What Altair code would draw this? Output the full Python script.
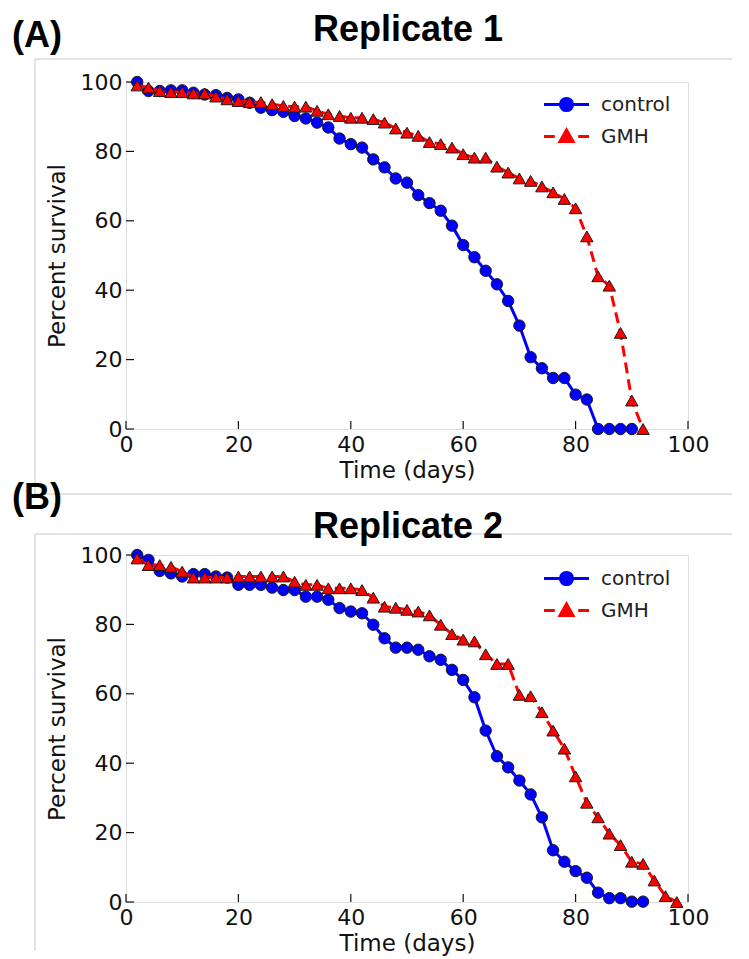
import altair as alt
import pandas as pd

# ---------------- data ----------------
days_c1 = [2, 4, 6, 8, 10, 12, 14, 16, 18, 20, 22, 24, 26, 28, 30, 32, 34, 36, 38, 40,
           42, 44, 46, 48, 50, 52, 54, 56, 58, 60, 62, 64, 66, 68, 70, 72, 74, 76, 78, 80,
           82, 84, 86, 88, 90]
ctrl_1 = [100, 97.4, 97.4, 97.6, 97.6, 96.9, 96.4, 96.2, 95.4, 95.0, 94.0, 92.6, 91.9, 91.4,
          90.2, 89.5, 88.3, 86.9, 83.7, 82.1, 81.1, 77.7, 75.4, 72.2, 71.0, 67.4, 65.1, 62.9,
          58.6, 53.0, 49.5, 45.6, 41.7, 36.9, 29.8, 20.7, 17.5, 14.7, 14.7, 9.9, 8.5, 0, 0, 0, 0]

days_g1 = [2, 4, 6, 8, 10, 12, 14, 16, 18, 20, 22, 24, 26, 28, 30, 32, 34, 36, 38, 40,
           42, 44, 46, 48, 50, 52, 54, 56, 58, 60, 62, 64, 66, 68, 70, 72, 74, 76, 78, 80,
           82, 84, 86, 88, 90, 92]
gmh_1 = [99.0, 98.4, 97.4, 97.1, 97.1, 96.7, 96.7, 95.8, 95.0, 94.5, 94.2, 94.2, 93.6, 93.1,
         92.9, 92.9, 91.7, 90.7, 90.2, 89.7, 89.7, 89.3, 88.3, 86.6, 85.4, 84.5, 82.7, 82.1,
         81.1, 79.2, 78.2, 78.2, 75.6, 73.9, 72.2, 71.5, 69.9, 68.2, 66.3, 63.6, 55.5, 44.0,
         41.3, 27.7, 8.2, 0]

days_c2 = [2, 4, 6, 8, 10, 12, 14, 16, 18, 20, 22, 24, 26, 28, 30, 32, 34, 36, 38, 40,
           42, 44, 46, 48, 50, 52, 54, 56, 58, 60, 62, 64, 66, 68, 70, 72, 74, 76, 78, 80,
           82, 84, 86, 88, 90, 92]
ctrl_2 = [100, 98.6, 95.4, 94.7, 93.8, 94.5, 94.5, 93.8, 93.5, 91.4, 91.4, 91.4, 90.6, 89.9,
          89.9, 88.0, 88.0, 87.1, 84.7, 83.7, 83.2, 79.9, 76.0, 73.3, 73.3, 72.7, 70.8, 69.8,
          66.9, 64.0, 59.0, 49.4, 42.0, 38.8, 35.0, 31.0, 24.4, 14.9, 11.6, 8.9, 7.0, 2.7,
          1.1, 1.1, 0.1, 0.1]

days_g2 = [2, 4, 6, 8, 10, 12, 14, 16, 18, 20, 22, 24, 26, 28, 30, 32, 34, 36, 38, 40,
           42, 44, 46, 48, 50, 52, 54, 56, 58, 60, 62, 64, 66, 68, 70, 72, 74, 76, 78, 80,
           82, 84, 86, 88, 90, 92, 94, 96, 98]
gmh_2 = [99.0, 97.1, 97.1, 96.6, 95.2, 93.5, 93.5, 93.5, 93.5, 93.8, 93.8, 93.8, 93.8, 93.8,
         92.3, 91.4, 91.4, 90.4, 90.4, 90.4, 89.9, 87.7, 85.1, 84.8, 84.2, 83.7, 82.6, 79.9,
         77.2, 75.6, 75.1, 71.4, 68.6, 68.6, 59.7, 59.3, 54.7, 49.4, 44.2, 36.2, 28.6, 24.4,
         19.7, 16.4, 11.6, 11.0, 6.2, 1.7, 0]

series_names = ["control", "GMH"]
tick_values = [0, 20, 40, 60, 80, 100]

# ---------------- style ----------------
W, H = 562, 347
BLUE, RED = "#0000ff", "#ff0000"
EDGE = "#1a1a1a"
GRAY = "#c8c8c8"
TICK_FONT = "DejaVu Sans"
HEAD_FONT = "Liberation Sans Narrow, Liberation Sans, Arial, sans-serif"
LEG_CIRCLE = "M-2.5,0L2.5,0M-0.68,0A0.68,0.68,0,1,0,0.68,0A0.68,0.68,0,1,0,-0.68,0Z"
LEG_TRI = "M-2.5,0L-1.3,0M1.3,0L2.5,0M0,-0.72L0.72,0.55L-0.72,0.55Z"

X_AXIS = alt.Axis(title="Time (days)", values=tick_values, ticks=False, domain=False,
                  grid=False, labelFlush=False, labelFont=TICK_FONT, labelFontSize=22,
                  labelColor="#111", labelPadding=5, titleFont=TICK_FONT, titleFontSize=23,
                  titleFontWeight="normal", titleColor="#111", titlePadding=4)
Y_AXIS = alt.Axis(title="Percent survival", values=tick_values, ticks=False, domain=False,
                  grid=False, labelFlush=False, labelFont=TICK_FONT, labelFontSize=22,
                  labelColor="#111", labelPadding=4, titleFont=TICK_FONT, titleFontSize=23,
                  titleFontWeight="normal", titleColor="#111", titlePadding=11)
XS = alt.Scale(domain=[0, 100], nice=False, zero=False)
YS = alt.Scale(domain=[0, 100], nice=False, zero=False)


def X(field):
    return alt.X(field, scale=XS, axis=X_AXIS)


def Y(field):
    return alt.Y(field, scale=YS, axis=Y_AXIS)


def panel(cd, cv, gd, gv, letter, title, letter_y, title_y, box_top, box_bottom,
          has_bottom_line, legend_y):
    df = pd.DataFrame({
        "day": cd + gd,
        "pct": cv + gv,
        "series": ["control"] * len(cd) + ["GMH"] * len(gd),
    })
    ticks = pd.DataFrame({"t": tick_values})

    base = alt.Chart(df)
    ctrl = base.transform_filter(alt.datum.series == "control")
    gmh = base.transform_filter(alt.datum.series == "GMH")

    ctrl_line = ctrl.mark_line(color=BLUE, strokeWidth=3).encode(x=X("day:Q"), y=Y("pct:Q"))
    ctrl_pts = ctrl.mark_point(shape="circle", filled=True, fill=BLUE, stroke=EDGE,
                               strokeWidth=1, size=130, opacity=1).encode(
        x=X("day:Q"), y=Y("pct:Q"))
    gmh_line = gmh.mark_line(color=RED, strokeWidth=3, strokeDash=[11, 6]).encode(
        x=X("day:Q"), y=Y("pct:Q"))
    gmh_pts = gmh.mark_point(shape="triangle-up", filled=True, fill=RED, stroke=EDGE,
                             strokeWidth=1, size=155, opacity=1).encode(
        x=X("day:Q"), y=Y("pct:Q"))

    leg = alt.Legend(orient="none", legendX=430, legendY=legend_y, title=None, padding=0,
                     labelFont=TICK_FONT, labelFontSize=20, labelColor="#222",
                     labelOffset=24, rowPadding=7, symbolSize=324, symbolStrokeWidth=3,
                     symbolOpacity=1)
    legend_layer = base.transform_filter(alt.datum.day < -1000).mark_point(
        filled=True, strokeWidth=3).encode(
        x=X("day:Q"), y=Y("pct:Q"),
        shape=alt.Shape("series:N", scale=alt.Scale(domain=series_names, range=[LEG_CIRCLE, LEG_TRI]), legend=leg),
        fill=alt.Fill("series:N", scale=alt.Scale(domain=series_names, range=[BLUE, RED]), legend=leg),
        stroke=alt.Stroke("series:N", scale=alt.Scale(domain=series_names, range=[BLUE, RED]), legend=leg),
    )

    xticks = alt.Chart(ticks).mark_rule(color="#111", strokeWidth=1.2).encode(
        x=X("t:Q"), y=alt.value(H), y2=alt.value(H - 8))
    yticks = alt.Chart(ticks).mark_rule(color="#111", strokeWidth=1.2).encode(
        y=Y("t:Q"), x=alt.value(0), x2=alt.value(8))

    letter_txt = alt.Chart().mark_text(text=letter, font=HEAD_FONT, fontSize=36, fontWeight="bold",
                                       align="left", baseline="alphabetic", color="#000").encode(
        x=alt.value(-114), y=alt.value(letter_y))
    title_txt = alt.Chart().mark_text(text=title, font=HEAD_FONT, fontSize=36, fontWeight="bold",
                                      align="center", baseline="alphabetic", color="#000").encode(
        x=alt.value(W / 2 + 1), y=alt.value(title_y))

    box_left = alt.Chart().mark_rule(color=GRAY, strokeWidth=1).encode(
        x=alt.value(-91), y=alt.value(box_top), y2=alt.value(box_bottom))
    box_top_line = alt.Chart().mark_rule(color=GRAY, strokeWidth=1).encode(
        x=alt.value(-91), x2=alt.value(606), y=alt.value(box_top))
    layers = [box_left, box_top_line]
    if has_bottom_line:
        layers.append(alt.Chart().mark_rule(color=GRAY, strokeWidth=1).encode(
            x=alt.value(-91), x2=alt.value(606), y=alt.value(box_bottom)))

    return alt.layer(*layers, ctrl_line, ctrl_pts, gmh_line, gmh_pts, xticks, yticks,
                     legend_layer, letter_txt, title_txt).properties(width=W, height=H)


top = panel(days_c1, ctrl_1, days_g1, gmh_1, "(A)", "Replicate 1", -35, -41, -23, 412, True, 12)
bottom = panel(days_c2, ctrl_2, days_g2, gmh_2, "(B)", "Replicate 2", -46, -17, -21, 396, False, 13)

chart = alt.vconcat(top, bottom, spacing=126, bounds="flush").resolve_scale(
    fill="independent", stroke="independent", shape="independent"
).resolve_legend(
    fill="independent", stroke="independent", shape="independent"
).properties(
    padding={"left": 3, "top": 3, "right": 0, "bottom": 0}
).configure_view(stroke="#111", strokeWidth=1.6).configure(background="white")

chart.save("out.html", embed_options={"renderer": "svg", "actions": False})
